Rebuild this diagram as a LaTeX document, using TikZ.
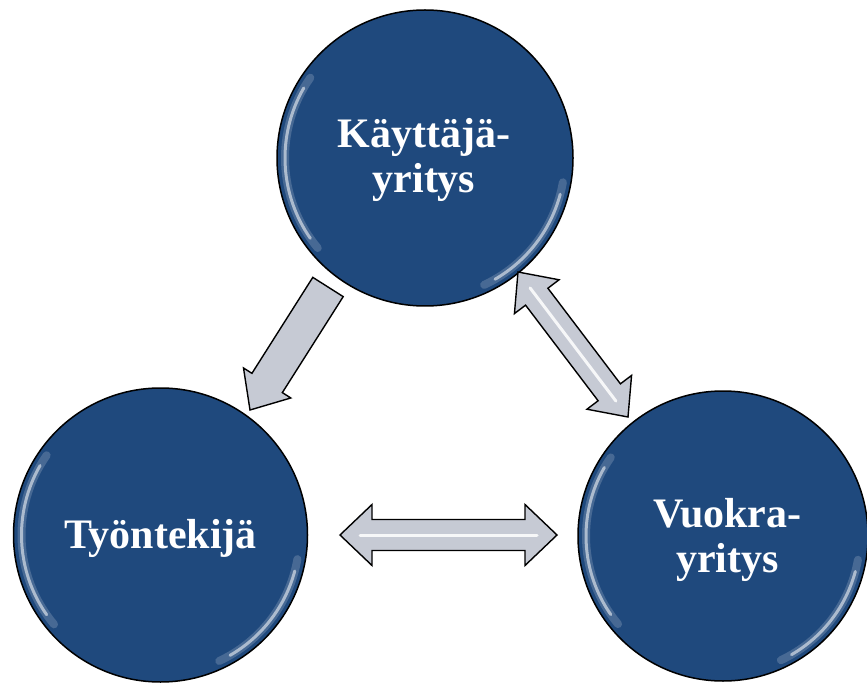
\documentclass[tikz,border=0pt]{standalone}
\usepackage{fontspec}
\setmainfont{Liberation Serif}
\usetikzlibrary{calc}
\definecolor{circblue}{RGB}{31,73,125}
\definecolor{arrgray}{RGB}{198,202,212}
\tikzset{
  bubble/.style={circle,draw=black,line width=1.5pt,fill=circblue,inner sep=0pt},
  gloss/.style={white,opacity=0.55,line width=3pt,line cap=round},
  softgloss/.style={white,opacity=0.18,line width=8pt,line cap=round},
  label/.style={text=white,font=\bfseries\fontsize{42}{45}\selectfont,align=center,inner sep=0pt},
  blockarrow/.style={fill=arrgray,draw=black,line width=1.4pt,line join=miter},
  stripe/.style={white,line width=3pt,opacity=0.85,line cap=round}
}
\begin{document}
\begin{tikzpicture}[x=1pt,y=-1pt]
\useasboundingbox (0,0) rectangle (867,684);
% circles
\node[bubble,minimum size=296pt] (top) at (425,158) {};
\node[bubble,minimum size=294pt] (left) at (160.5,535) {};
\node[bubble,minimum size=290pt] (right) at (723,536) {};
% gloss highlights
\foreach \c/\r in {top/140,left/139,right/137}{
  \draw[softgloss] ($(\c.center)+(140:\r)$) arc[start angle=140,end angle=215,radius=\r];
  \draw[softgloss] ($(\c.center)+(10:\r)$) arc[start angle=10,end angle=65,radius=\r];
  \draw[gloss] ($(\c.center)+(145:\r)$) arc[start angle=145,end angle=210,radius=\r];
  \draw[gloss] ($(\c.center)+(15:\r)$) arc[start angle=15,end angle=60,radius=\r];
}
% labels
\node[label] (ttop) at (424,160) {Käyttäjä-\\yritys};
\node[label] (tleft) at (160.5,538.5) {Työntekijä};
\node[label] (tright) at (727.5,540) {Vuokra-\\yritys};
% arrow 1: single, top -> left
\coordinate (a1t) at (328,287);
\coordinate (a1p) at (250,410);
\coordinate (a1h) at ($(a1p)!32pt!(a1t)$);
\draw[blockarrow] ($(a1t)!18pt!90:(a1p)$) -- ($(a1h)!18pt!90:(a1p)$) -- ($(a1h)!28pt!90:(a1p)$)
  -- (a1p) -- ($(a1h)!28pt!-90:(a1p)$) -- ($(a1h)!18pt!-90:(a1p)$) -- ($(a1t)!18pt!-90:(a1p)$) -- cycle;
% arrow 2: double, top <-> right
\coordinate (a2p) at (518,272);
\coordinate (a2q) at (628,417);
\coordinate (a2hp) at ($(a2p)!31pt!(a2q)$);
\coordinate (a2hq) at ($(a2q)!31pt!(a2p)$);
\draw[blockarrow] (a2p) -- ($(a2hp)!28pt!90:(a2q)$) -- ($(a2hp)!14pt!90:(a2q)$)
  -- ($(a2hq)!14pt!-90:(a2p)$) -- ($(a2hq)!28pt!-90:(a2p)$) -- (a2q)
  -- ($(a2hq)!28pt!90:(a2p)$) -- ($(a2hq)!14pt!90:(a2p)$)
  -- ($(a2hp)!14pt!-90:(a2q)$) -- ($(a2hp)!28pt!-90:(a2q)$) -- cycle;
\draw[stripe] ($(a2p)!20pt!(a2q)$) -- ($(a2q)!20pt!(a2p)$);
% arrow 3: double, left <-> right
\coordinate (a3p) at (340,535);
\coordinate (a3q) at (557,535);
\coordinate (a3hp) at ($(a3p)!32pt!(a3q)$);
\coordinate (a3hq) at ($(a3q)!32pt!(a3p)$);
\draw[blockarrow] (a3p) -- ($(a3hp)!30.5pt!90:(a3q)$) -- ($(a3hp)!15.5pt!90:(a3q)$)
  -- ($(a3hq)!15.5pt!-90:(a3p)$) -- ($(a3hq)!30.5pt!-90:(a3p)$) -- (a3q)
  -- ($(a3hq)!30.5pt!90:(a3p)$) -- ($(a3hq)!15.5pt!90:(a3p)$)
  -- ($(a3hp)!15.5pt!-90:(a3q)$) -- ($(a3hp)!30.5pt!-90:(a3q)$) -- cycle;
\draw[stripe] ($(a3p)!20pt!(a3q)$) -- ($(a3q)!20pt!(a3p)$);
\end{tikzpicture}
\end{document}
